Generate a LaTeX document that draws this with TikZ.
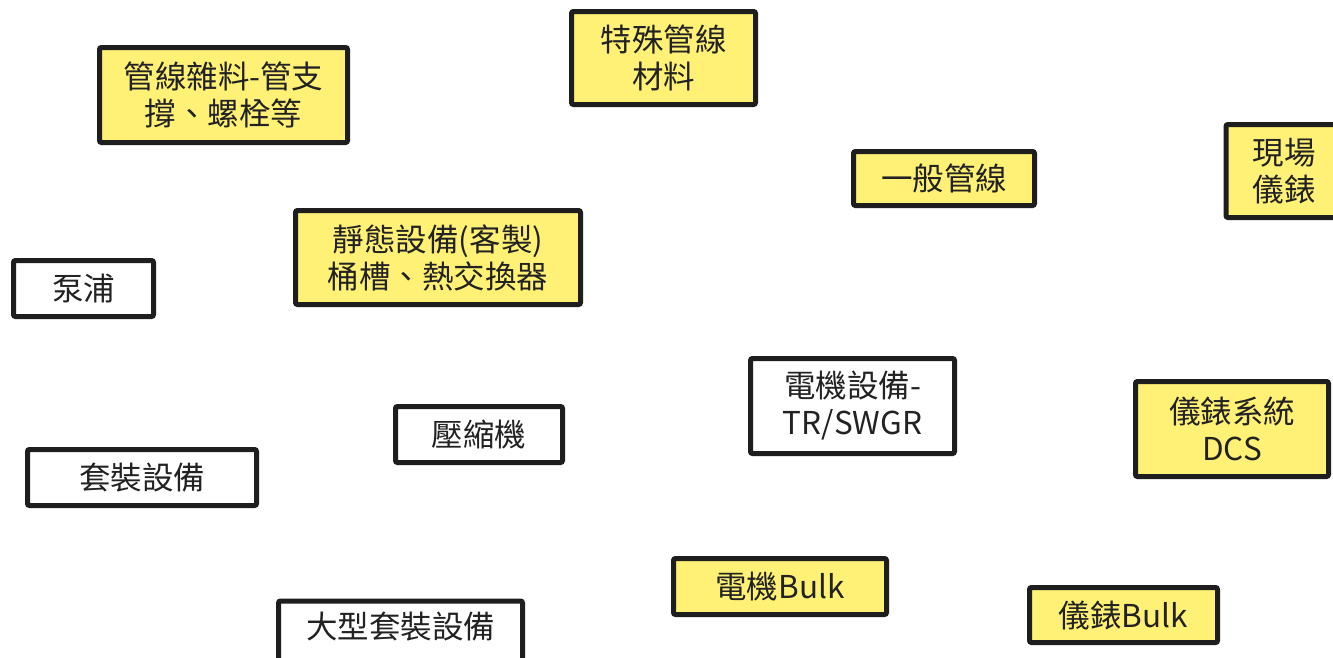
\documentclass[tikz,border=0pt]{standalone}
\usepackage{fontspec}
\setmainfont{Noto Sans CJK TC}
\definecolor{boxyellow}{HTML}{FFF176}
\definecolor{boxline}{HTML}{1E1E1E}
\definecolor{txt}{HTML}{222222}
\tikzset{
  basebox/.style={draw=boxline, line width=5pt, rounded corners=2pt, align=center,
    text=txt, inner sep=0pt, font=\fontsize{31.5}{37}\selectfont},
  ybox/.style={basebox, fill=boxyellow},
  wbox/.style={basebox, fill=white},
}
\begin{document}
\begin{tikzpicture}[x=1pt,y=-1pt]
\clip (0,0) rectangle (1333,657);
\fill[white] (0,0) rectangle (1333,657);
\node[ybox, minimum width=248, minimum height=95] (zaliao) at (223.5,95) {管線雜料-管支\\撐、螺栓等};
\node[ybox, minimum width=184, minimum height=93] (teshu) at (663.5,58) {特殊管線\\材料};
\node[ybox, minimum width=181, minimum height=54] (yiban) at (944,178.5) {一般管線};
\node[ybox, minimum width=130, minimum height=93, anchor=west] (xianchang) at (1223.5,171) {};
\node[txt, font=\fontsize{31.5}{37}\selectfont, align=center] (xianchangtxt) at (1284,171) {現場\\儀錶};
\node[ybox, minimum width=285, minimum height=94] (jingtai) at (438,257.5) {靜態設備(客製)\\桶槽、熱交換器};
\node[wbox, minimum width=140, minimum height=56] (bengpu) at (83.5,288.5) {泵浦};
\node[wbox, minimum width=204, minimum height=95] (dianji) at (852.5,406) {電機設備-\\TR/SWGR};
\node[ybox, minimum width=193, minimum height=95] (dcs) at (1232,429) {儀錶系統\\DCS};
\node[wbox, minimum width=167, minimum height=56] (yasuo) at (479,434.5) {壓縮機};
\node[wbox, minimum width=229, minimum height=56] (taozhuang) at (142,477.5) {套裝設備};
\node[ybox, minimum width=213, minimum height=56] (djbulk) at (780,586.5) {電機Bulk};
\node[ybox, minimum width=188, minimum height=55] (ybbulk) at (1123.5,615) {儀錶Bulk};
\node[wbox, minimum width=244, minimum height=60, anchor=north] (daxing) at (400.5,598.5) {};
\node[txt, font=\fontsize{31.5}{37}\selectfont] (daxingtxt) at (400.5,627) {大型套裝設備};
\end{tikzpicture}
\end{document}
